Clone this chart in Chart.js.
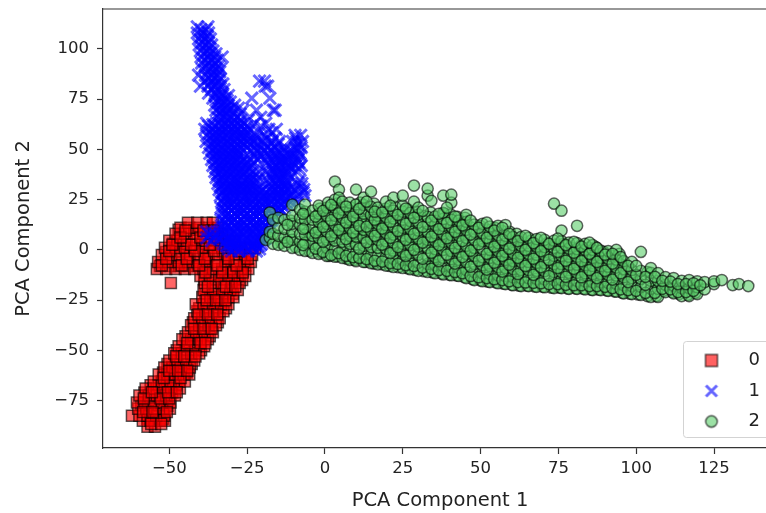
<!DOCTYPE html>
<html><head><meta charset="utf-8">
<style>html,body{margin:0;padding:0;background:#fff;width:766px;height:513px;overflow:hidden}
canvas{display:block;filter:blur(0.45px)}</style>
<script src="https://cdn.jsdelivr.net/npm/chart.js@4"></script>
</head><body><canvas id="c" width="766" height="513"></canvas>
<script>
const xTitle='PCA Component 1', yTitle='PCA Component 2';
const seriesNames=['0','1','2'];
// rows: [y, x, x, ...]
const redDense=[
[-84,-57,-54.4,-52],[-77.6,-59,-56,-53.4,-50.6],[-71,-58,-54,-51.4,-49],[-67.4,-56,-53.4,-50.8,-47.8],[-61,-52,-49.6,-46.8,-44.4],[-56.8,-50.6,-48,-45.2,-42.8],
[-50,-47.6,-44.8,-42,-39.8],[-43,-44.8,-42,-39.4,-37],[-36,-42.4,-39.8,-36.8,-34.4],[-29,-40.4,-37.4,-34.4,-31.8],[-21.8,-38.4,-35.4,-32.4,-29.6],[-15,-38.8,-35,-32,-29,-26.6],
[-8,-53,-49.8,-46.8,-43.8,-40.8,-37.8,-31.6,-25.6],[-1,-51,-47.6,-44.6,-38.8,-32.8,-26.8],[3,-48.8,-45.8,-40,-34],[10,-47,-42,-36.8]
];
const redRows=[
[-88,-57,-54.6],[-85,-58.5,-56,-53,-51.4],[-82.5,-62,-59.6,-57,-54.2,-51.6],[-79,-60,-57.4,-54.8,-52,-49.8],
[-76,-60.4,-58,-55,-52.4,-49.6],[-72.5,-59.6,-56.6,-54,-51,-48.2],[-69,-57.6,-55,-52,-49.4,-46.6],[-65.5,-55,-52.4,-49.6,-46.8,-45],
[-62,-53.4,-50.6,-48,-45.4,-43.6],[-58.5,-51.6,-49,-46.2,-43.4],[-55,-50,-47.4,-44.6,-42],[-51.5,-48.4,-46,-43,-40.4],
[-48,-47,-44.4,-41.6,-38.8],[-44.5,-45.8,-43,-40.4,-37.6],[-41,-44,-41.4,-38.6,-36],[-37.5,-43,-40.4,-37.4,-35],
[-34,-42,-39.4,-36.6,-33.8],[-30.5,-41,-38.4,-35.6,-32.6],[-27,-41.5,-39,-36,-33.4,-31],[-23.5,-39.4,-36.8,-34,-31,-29.4],
[-20,-39,-36,-33,-30.4,-28],[-16.5,-49.5,-38.6,-36,-33.2,-30,-27.4],[-13,-40,-37,-34,-31,-28,-25.6],
[-9.5,-54,-51,-48,-45,-42,-39,-36,-33,-30,-27,-24.6],[-6,-53.6,-50.4,-47,-44,-41,-38,-35,-32,-29,-26,-23.8],
[-2.5,-52.4,-49.4,-46.6,-43.4,-40.4,-37.4,-34.4,-31.4,-28.6,-25.6,-23.4],[1,-51.4,-48,-45,-42,-39,-36,-33,-30,-27,-24,-22.4],
[4.5,-50,-47.4,-44.4,-41.4,-38.4,-35.4,-32,-29],[8,-48,-45,-42,-39,-36,-33],[11,-46.4,-43.6,-40.6,-37.6,-34.4],[13.5,-44,-41,-38,-36]
];
const redExtra=[
[-86.6,-55.8,-52.6],[-80.7,-58.4,-55.4,-50.8],[-74,-58.2,-52.8,-50],[-70.9,-55.6,-50.4,-47.6],[-63.7,-51.8,-46.4],[-60.2,-50,-47.2,-44.2],
[-53,-47.8,-45.2,-41.6],[-46.4,-44.2,-40,-38.4],[-39.3,-42,-39,-36.4],[-32.2,-40.6,-37.6,-34.6],[-25.1,-38,-35,-32],[-18.3,-37.6,-31.8,-28.8],
[-11.2,-38.4,-33,-29.4,-26.4],[-7.7,-52.4,-46,-40.4,-34.6,-28.4],[-4.4,-51,-44.4,-38.6,-31,-24.8],[-0.6,-50,-41.8,-35.6,-27.6],[2.6,-49,-43,-37,-31],
[6.2,-46.4,-40,-34.4],[9.6,-44.8,-39,-35.6]
];
const blueRows=[
[111,-41,-37.6],[108,-41,-39.4,-37.4],[105,-40.6,-38.6,-36.8],[102,-40.4,-38.4,-36.4],[99,-40,-38,-36],[96,-39.8,-37.6,-35.4,-33],[93,-39.6,-37.4,-35.2],
[90,-39.4,-37,-35,-33.6],[87,-40.6,-38.4,-36.4,-34.4],[84,-38.6,-36.4,-34.2,-21,-19.4],[81.5,-40,-37.6,-35.6,-33.6,-19.2,-18.4],[78,-37.4,-35.2,-33],
[75.5,-36,-34,-32,-23.5,-17.7],[72,-35.4,-33.4,-31.2,-29],[69.5,-35,-33,-31,-26.3,-22,-16,-16.6],[66,-34.6,-32.6,-30.4,-28.2,-20.6],
[63,-38,-34.2,-32,-30,-28,-26,-22.6,-19],[60,-38.6,-36.4,-34.2,-32,-30,-28,-26,-24,-18,-15.6],[57,-38,-36,-34,-31.6,-29.4,-27.4,-25.4,-22.4,-19.4,-9.6,-7.8],
[54,-38.2,-35.6,-33.6,-31.4,-29,-27,-25,-23,-20,-17,-14.6,-9,-10.4,-7.2],[51,-37.4,-35.4,-33.4,-31.2,-29.2,-27.2,-25,-22.6,-20.4,-18.4,-16,-13.4,-9.4,-7.6],
[48,-37,-35,-33,-31,-29,-27.4,-23,-20.8,-18.6,-16.4,-14.2,-12.2,-10,-8],[45,-36.4,-34.4,-32.4,-30.4,-28.4,-26,-24,-21.6,-19.4,-17,-15,-12.8,-8.6],
[42,-36,-34,-32,-30,-28,-26,-23.6,-18,-16,-14,-12,-9.6,-7.6],[39,-35.4,-33.4,-31.4,-29.4,-27.4,-25.4,-23.2,-21,-18.8,-16.6,-14.4,-12.2,-9],
[36,-35,-33,-31,-29,-27,-25,-23,-21.4,-17.4,-15.2,-13,-11.2],[33,-34.4,-32.4,-30.4,-28.4,-26.4,-24.4,-22.4,-18,-16,-14,-12,-8.6,-7.4],
[30,-34,-32,-30,-28,-26,-24,-22,-20,-18,-16,-14,-11.6,-9.6,-6.8],[27,-33.6,-31.6,-29.6,-27.6,-25.6,-23.6,-21.6,-19.6,-17.6,-15.6,-13.6,-11,-8.4,-6.4],
[24,-33.2,-31.2,-29.2,-27.2,-25.2,-23.2,-21.2,-19.2,-17.2,-15.2,-13,-11,-9],[21,-33.4,-31,-29,-27,-25,-23,-21,-19,-17,-15,-13],
[18,-33,-31,-29,-27,-25,-23,-21,-19,-17,-15],[15,-33.4,-31,-29,-27,-25,-23,-21,-19,-17],[12,-33.2,-31,-29,-27,-25,-23,-21,-19],
[9,-38,-36.4,-34,-31.6,-29.6,-27.6,-25.6,-23.6,-21.6,-19.6],[6,-38,-35.6,-33.2,-31,-29,-27,-25,-23,-21,-19],[3,-32.6,-30.4,-28.4,-26.4,-24.4,-22.4,-20.4],[0.5,-31,-29,-27,-25,-23,-21]
];
const blueExtra=[
[109.6,-39.8,-38.2],[106.4,-39.6,-37.8],[103.4,-39.4,-37.4],[100.4,-39.2,-37],[97.6,-38.8,-36.8,-35],[94.4,-38.6,-36.4,-34.6],[91.4,-38.4,-36,-34.2],[88.6,-37.8,-35.8,-33.8],
[85.4,-37.4,-35.4,-33.6],[82.6,-37,-35,-32.8],[79.8,-36.4,-34.4,-32.4],[76.8,-35.2,-33,-31],[73.6,-34.4,-32.4,-30.4],[70.6,-34,-32,-30,-27.8],[67.6,-33.6,-31.6,-29.4,-27.2],
[64.6,-33.4,-31,-29,-27,-24.6],[61.6,-37.4,-35.4,-33,-31,-29,-27,-25,-20.6],[58.4,-37,-35,-33,-31,-29,-26.8,-24.6,-21,-17],[55.6,-37,-34.8,-32.6,-30.4,-28.2,-26,-24,-21.8,-18.6,-16,-9.4],
[52.6,-36.6,-34.4,-32.4,-30.2,-28,-26,-24,-21.4,-19.2,-17.2,-15,-8.6],[49.6,-36.2,-34,-32,-30,-28,-24,-21.8,-19.6,-17.4,-15.2,-13,-11,-8.8],[46.6,-35.8,-33.6,-31.6,-29.6,-27.4,-22.6,-20.4,-18,-16,-13.6,-11.6,-9.6,-7.8],
[43.6,-35.4,-33.2,-31.2,-29.2,-27,-25,-22.8,-18.8,-16.6,-14.6,-12.6,-10.4,-8.4],[40.6,-35,-32.8,-30.8,-28.8,-26.8,-24.4,-16.8,-14.8,-12.8,-10.8,-8.4],[37.6,-34.6,-32.4,-30.4,-28.4,-26.2,-24,-22,-17.8,-15.8,-13.6,-11.8],
[34.6,-34,-32,-30,-28,-26,-24,-22,-18.6,-16.6,-14.6,-12.4,-8],[31.4,-33.6,-31.4,-29.4,-27.4,-25.4,-23.2,-21.6,-17,-15,-13,-11,-7.6],[28.6,-33,-31,-29,-27,-25,-23,-21,-19,-17,-15,-13,-10.6,-7],
[25.6,-32.6,-30.4,-28.4,-26.4,-24.4,-22.4,-20.4,-18.4,-16.4,-14.4,-12.4,-10],[22.6,-32.2,-30,-28,-26,-24,-22,-20,-18,-16,-14,-12],[19.6,-32,-30,-28,-26,-24,-22,-20,-18,-16,-14],
[16.6,-32,-30,-28,-26,-24,-22,-20,-18,-16],[13.6,-32,-30,-28,-26,-24,-22,-20,-18],[10.6,-32.4,-30,-28,-26,-24,-22,-20,-18],[7.6,-37,-35,-32.6,-30.4,-28.4,-26.4,-24.4,-22.4,-20.4],
[4.6,-36.4,-32,-30,-28,-26,-24,-22,-20],[1.8,-31.4,-29.6,-27.6,-25.6,-23.6,-21.6]
];
const blueDense=[
[59.2,-33.2,-28.6,-25.4],[53.4,-35,-31,-26.6,-22.6],[47.4,-34.6,-30.4,-28,-15.4,-11],[41.4,-33.4,-29.4,-25.2,-15.6,-11.4],[35.4,-32.8,-28.8,-24.6,-14.4],
[32.2,-33,-30,-27,-23.8,-15.4,-12.8],[29.4,-32.6,-29.6,-26.6,-23.4,-20.4,-16.6,-13],[26.4,-32,-29,-26,-23,-20,-17,-14,-11.4],[23.4,-32.6,-29.6,-26.6,-23.6,-20.6,-17.6,-14.6],
[20.4,-32.6,-29.4,-26.4,-23.4,-20.4,-17.4,-14.4],[17.4,-31.6,-28.6,-25.6,-22.6,-19.6,-16.6],[14.4,-32.6,-29.6,-26.6,-23.6,-20.6,-17.6],[11.4,-31.6,-28.6,-25.6,-22.6,-19.6],
[8.4,-32.4,-29,-26,-23,-20.4],[5.4,-34,-31.4,-28.4,-25.4,-22.4,-19.6],[2.4,-31.6,-28.8,-25.8,-22.8,-20.8],[-0.6,-30,-27.6,-24.6,-22]
];
const blueFill=[
[74.4,-33.6,-31.4],[68.4,-33.8,-31.8,-29.6],[62.4,-36,-33.6,-31.6,-29.4,-27.4],[56.4,-35.4,-33.4,-31,-28.8,-26.6],[50.4,-35,-32.8,-30.6,-28.6,-26.6],
[44.4,-34.6,-32.6,-30.6,-28.6,-26.6,-14,-11.8],[38.4,-33.8,-31.8,-29.8,-27.8,-25.8,-15,-13],[30.6,-31,-28.8,-26.8,-24.8,-14.8,-12.6]
];
// columns: [x, y, y, ...]
const greenDense=[
[-14,3.4],[-9.4,1.4],[-5,-0.6,5.4],[-1,-1.6,12.6],[1.4,-3,3],[4,-3.2],[7,-4.4,9.4],[9.6,-5,4.4],[13,-6,8],[15.8,-6.8,3],[18.4,-7.2,11],[20.8,-8,6.4],[23.6,-8.6,-2],
[26.6,-9.2,9],[29,-10,3],[31.8,-10.6,7.4],[34.6,-11.2,-5],[37.4,-11.8,2],[40,-12.4,6],[42.4,-12.8,-3],[44.8,-13.6,8],[47.4,-14.6,-4.4],[50,-15.2,4],[52.4,-15.8,-7],
[55,-16.2,1],[57.4,-16.8,-3.4],[60,-17.4,-6.4],[62.4,-17.8,0.6],[65,-17.8,-4],[67.4,-18.2,-8],[70,-18.4,-1],[72.8,-18.8,-9],[75.4,-18.8,-3.4],[78,-19.2,-7],[80.6,-19.2,-1],
[83,-19.4,-9],[85.6,-19.8,-3],[88,-19.8,-7],[90.6,-20.2,-11],[93,-20.6,-3],[95.6,-21.4,-7.6],[98,-21.8,-12],[100.6,-22.2,-16],[103.6,-23,-11],[106.4,-23,-17],[108.8,-20.4],[111.6,-21],[113.8,-22],[116.6,-22.4],[119,-21.4]
];
const greenFill=[
[-11,7,14.6],[-5.4,9,17],[-1.6,8,15.6,20.6],[1.8,10.4,18.6],[3.8,6.4,15,23],[6.2,2,11,18.6],[8.4,6,13.4,21],[11.4,8.4,16,23.6],[13.6,0,7.6,15.4,20],[15.8,11,18,23],[18,-1,7,14.8],
[20.2,2.4,10,18],[22.6,-2.4,5.6,13.4,21.4],[24.4,1,9,17],[26.8,-5,3,11,20],[29.2,-2,6,14,19],[31.8,1.4,9,17],[34,-6,3,11,18.6],[36,-2,6.4,14.4],[38.4,1.6,10,18],
[40.4,-7,-0.6,9.4,17.6],[42.6,5,13,16.4],[45,-8,0,12,16],[47.4,-1,3,11],[49.8,-9,7,12],[52.4,-2,4,10],[54.6,-11,-2.4,6,11],[57,-7,1,9.4],[59.4,-12,-4,4.6,9],[61.6,-8,0,8],
[64,-13,-4,3.6],[66.2,-8.4,0,4.6],[68.6,-12,-4.4,2],[71.4,-9,-1,3.4],[74,-13,-5,2.6],[76.6,-9,-1,3],[79.4,-13,-5,1],[82,-9.6,-2,2],[84.6,-14,-6,1],[87,-10,-2,1.4],[89.6,-14,-6,-1],[92,-10,-3],[94.6,-15,-7,-2]
];
const greenCols=[
[-19,5],[-17.7,6,9,18.6],[-16.7,3,8,15],[-15,2.5,7,11,16],[-13,2,6,10.5,15],[-10.5,1,5,9,13,17,22.5],[-8,0,4,8,12.5,16,20],[-6.4,-0.5,3.5,7.5,11,15,19,22.5],
[-4,-1.5,3,7,11,15,19.5],[-2,-2,2,6,10,14,18,22],[0.6,-3,1,5,9,13,17,21],[1,23.5],[3.2,-3.4,0.5,4.6,8.6,12.5,17,21,25,34],[4.5,30,26],[5.6,-4,0,4,8,12,16,20,24],
[8,-5,-1,3,7,11,15,19.5,23.5],[10,-5.6,-1.4,2.6,6.6,10.6,14.6,18.6,22.6,30],[12.4,-6,-2,2,6,10,14,18,22.4,26],[14.8,-6.6,-2.6,1.4,5.4,9.4,13.4,17.4,21.4,29],
[17,-7.2,-3,1,5,9,13,17,21],[19.6,-7.8,-3.6,0.4,4.4,8.4,12.4,16.4,20.6,24],[22,-8.5,-4.4,-0.4,3.6,7.6,11.6,15.6,19.6,26],[25,-9,-5,-1,3,7,11,15,19,22,27],
[27.4,-9.6,-5.6,-1.6,2.4,6.4,10.4,14.4,18.4],[28.6,24,32],[30,-10.4,-6.4,-2.4,1.6,5.6,9.6,13.6,17.6,21],[33,-11,-7,-3,1,5,9,13,16.4,27,30.5],[35.4,-11.6,-7.6,-3.6,0.4,4.4,8.4,12.4,16.6],
[38,-12.2,-8,-4,0,4,8,12,15.4,18.5,27],[40.6,-12.6,-8.6,-4.6,-0.6,3.4,7.4,11.4,15,23.5,27.5],[43,-13,-9,-5,-1,3,7,11,14.6],[45.4,-14,-10,-6,-2,2,6,10,14,17.5],
[48,-15,-11,-7,-3,1,5,9,12.6],[50.6,-15.6,-11.6,-7.6,-3.6,0.4,4.4,8.4,13],[53,-16,-12,-8,-4,0,4,8,11.6],[55.6,-16.6,-12.6,-8.6,-4.6,-0.6,3.4,7.4,12],[58,-17,-13,-9,-5,-1,3,7,12.4],
[60.4,-17.6,-13.6,-9.6,-5.6,-1.6,2.4,6.4],[63,-18,-14,-10,-6,-2,2,6.4],[65.4,-18,-14,-10,-6,-2,2,6],[68,-18.4,-14.4,-10.4,-6.4,-2.4,1.6,5.4],[70.6,-18.6,-14.6,-10.6,-6.6,-2.6,1.4,5],
[73.6,-19,-15,-11,-7,-3,1,4.6,23],[76,-19,-15,-11,-7,-3,1,4.4,9.6,19.5],[78.4,-19.4,-15.4,-11.4,-7.4,-3.4,0.6,3.6],[81,-19.4,-15.4,-11.4,-7.4,-3.4,0.4,3.4,12],
[83.6,-19.6,-15.6,-11.6,-7.6,-3.6,0,3],[86,-20,-16,-12,-8,-4,0,2.4],[88.6,-20,-16,-12,-8,-4,-0.4],[91,-20.4,-16.4,-12.4,-8.4,-4.4,-0.6],[93.6,-20.8,-16.8,-12.8,-8.8,-4.8,0],
[96,-21.6,-17.6,-13.6,-9.6,-5.6],[98.6,-22,-18,-14,-10,-6],[101.5,-22.4,-18.4,-14.4,-10.4,-1],[104.7,-23.4,-19.4,-15.4,-11.4,-9],[107,-23.4,-19.4,-15.4,-11.6],
[109.4,-21,-17.4,-13.6],[112,-21.6,-17.8,-14],[114.6,-23,-19,-15.4],[117,-23,-19,-15],[119.6,-22,-18.6,-15.6],[122,-19.6,-16],[125,-17,-15.6],[127.5,-15],[131,-17.5],[133,-17],[136,-18]
];
const greenExtra=[
[-12,4,12.5],[-7,2.4,10.4,18],[-3,0.6,8.6,16.6],[-0.6,-1,4,11.4,19.4],[2,-2.6,6.8,14.8,22.4],[4.4,-1.6,10,18.2],[6.8,-3,5.4,13.6,21.6],[9,-3.6,8.6,16.6],
[11,-4,0.6,12,20.4],[13.4,-4.6,3.8,11.6,24],[16,-5.4,7,15,19],[18.4,-5.8,2.6,10.6,18.6],[21,-6.6,-1.6,6,14,22],[23.4,-7,1.4,9.4,17.4],[26,-7.6,-3,5,13,20.6],
[28.6,-8,0,8,16],[31.4,-8.8,-4.4,3.6,11.4,19.4],[34.2,-9.4,-1.4,6.6,14.6,24.4],[36.6,-10,-5.6,2.4,10.4,18],[39.2,-10.4,-2.4,5.8,13.4,21],[41.8,-11,-6.8,1,9,16.6],
[44.2,-11.6,-3.6,4.4,12.2],[46.8,-13,-8.4,-0.4,7.6,14.6],[49.4,-13.6,-5.4,2.8,11],[52,-14,-9.8,-2,6,13.6],[54.4,-14.6,-6.4,1.6,9.6],[57,-15,-10.8,-3,5,11],[59.2,-15.6,-7.4,0.6,8],
[62,-16,-12,-4,4.4],[64.4,-16.2,-8,0,7],[67,-16.4,-12.4,-4.4,3.4],[69.4,-16.6,-8.6,-0.6,6],[72,-17,-13,-5,3],[74.8,-17,-9,-1,5.6],[77.4,-17.4,-13.4,-5.4,2.4],
[80,-17.6,-9.4,-1.4,4],[82.4,-17.6,-13.6,-5.6,1.6],[85,-18,-10,-2,3.6],[87.4,-18,-14,-6,1],[90,-18.4,-10.4,-2.4],[92.4,-19,-14.8,-6.8,-2],[95,-19.6,-11.6,-3.6],
[97.4,-20,-16,-8],[100,-20.4,-12.4,-8],[103,-21.4,-17.4,-13.4],[106,-21.4,-13.4],[108.4,-19.4,-15.4],[111,-19.6,-15.8],[113.4,-21,-17],[116,-21,-17],[118.4,-20.4,-16.6],[120.6,-17.6]
];
const xTicksStep=25, yTicksStep=25;
const xMin=-71.3, xMax=141.7, yMin=-98.6, yMax=119.9;

const fromRows=(...rs)=>rs.flat().flatMap(([y,...xs])=>xs.map(x=>({x,y})));
const fromCols=(...cs)=>cs.flat().flatMap(([x,...ys])=>ys.map(y=>({x,y})));
const fmt=v=>String(v).replace('-','\u2212');

function marker(kind){
  const k=document.createElement('canvas');k.width=18;k.height=18;const g=k.getContext('2d');
  g.lineWidth=1.4;g.strokeStyle='rgba(0,0,0,0.65)';
  if(kind==='rect'){g.fillStyle='rgba(255,0,0,0.62)';g.fillRect(3,3,12,12);g.strokeRect(3,3,12,12);}
  if(kind==='crossRot'){g.strokeStyle='rgba(0,0,255,0.6)';g.lineWidth=3;g.beginPath();g.moveTo(3.5,3.5);g.lineTo(14.5,14.5);g.moveTo(14.5,3.5);g.lineTo(3.5,14.5);g.stroke();}
  if(kind==='circle'){g.fillStyle='rgba(90,205,105,0.6)';g.beginPath();g.arc(9,9,5.8,0,7);g.fill();g.stroke();}
  return k;
}
const styles=['rect','crossRot','circle'];
const noPad=s=>{s.paddingLeft=s.paddingRight=s.paddingTop=s.paddingBottom=0;};
const placeLegend={id:'placeLegend',beforeDraw(ch){
  const g=ch.ctx,l=ch.legend;
  g.save();g.fillStyle='rgba(255,255,255,0.8)';g.strokeStyle='#d3d3d3';g.lineWidth=1;
  g.beginPath();g.roundRect(683.5,341.5,110,96,3);g.fill();g.stroke();g.restore();
  l.left=671;l.right=800;l.top=339;l.bottom=480;l.adjustHitBoxes();
  ch.scales.x.right=777; // the axes run past the cropped right edge, so the title centres on the full width
},afterDraw(ch){
  const a=ch.chartArea,g=ch.ctx;g.save();g.strokeStyle='#333';g.lineWidth=1.2;g.beginPath();
  g.moveTo(a.left,a.top);g.lineTo(a.right,a.top);g.stroke();g.restore();
}};
new Chart(document.getElementById('c'),{
  type:'scatter',
  data:{datasets:[
    {label:seriesNames[0],data:fromRows(redDense,redRows,redExtra),order:3,pointStyle:'rect',pointRadius:7.8,backgroundColor:'rgba(255,0,0,0.6)',borderColor:'rgba(0,0,0,0.65)',borderWidth:1.5},
    {label:seriesNames[1],data:fromRows(blueRows,blueExtra,blueDense,blueFill),order:2,pointStyle:'crossRot',pointRadius:8.6,backgroundColor:'rgba(0,0,255,0.6)',borderColor:'rgba(0,0,255,0.6)',borderWidth:3},
    {label:seriesNames[2],data:fromCols(greenDense,greenFill,greenCols,greenExtra),order:1,pointStyle:'circle',pointRadius:5.6,backgroundColor:'rgba(90,205,105,0.6)',borderColor:'rgba(0,0,0,0.6)',borderWidth:1.5}
  ]},
  options:{
    responsive:false,animation:false,events:[],
    layout:{autoPadding:false,padding:{top:9,right:0,left:0,bottom:0}},
    plugins:{tooltip:{enabled:false},
      legend:{position:'chartArea',align:'start',labels:{usePointStyle:true,pointStyleWidth:56,padding:12.5,color:'#222',
        font:{family:'DejaVu Sans',size:18},
        generateLabels(ch){return ch.data.datasets.map((d,i)=>({text:d.label,pointStyle:marker(styles[i]),datasetIndex:i,fontColor:'#222',lineWidth:0,strokeStyle:'transparent',fillStyle:'transparent'}));}}}},
    scales:{
      x:{type:'linear',min:xMin,max:xMax,afterFit(s){s.height=65;noPad(s);},
        grid:{display:true,drawOnChartArea:false,tickLength:6,tickColor:'#333',tickWidth:1.2},
        border:{display:true,color:'#333',width:1.2},
        ticks:{stepSize:xTicksStep,includeBounds:false,autoSkip:false,maxRotation:0,padding:5,color:'#222',font:{family:'DejaVu Sans',size:16.5},callback:fmt},
        title:{display:true,text:xTitle,color:'#222',font:{family:'DejaVu Sans',size:19.5},padding:{top:2,bottom:0}}},
      y:{type:'linear',min:yMin,max:yMax,afterFit(s){s.width=103;noPad(s);},
        grid:{display:true,drawOnChartArea:false,tickLength:6,tickColor:'#333',tickWidth:1.2},
        border:{display:true,color:'#333',width:1.2},
        ticks:{stepSize:yTicksStep,includeBounds:false,autoSkip:false,padding:8,color:'#222',font:{family:'DejaVu Sans',size:16.5},callback:fmt},
        title:{display:true,text:yTitle,color:'#222',font:{family:'DejaVu Sans',size:19.5},padding:{top:12,bottom:0}}}
    }
  },
  plugins:[placeLegend]
});
</script></body></html>
